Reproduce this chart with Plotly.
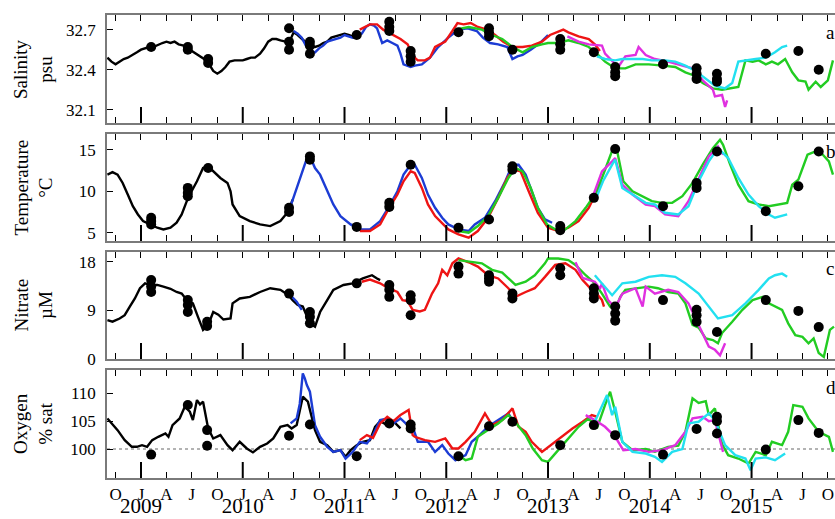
import plotly.graph_objects as go

# ---------------- DATA (time in decimal years) ----------------
# Salinity (psu)
sal_black_t = [2008.67,2008.71,2008.75,2008.79,2008.83,2008.87,2008.92,2008.96,2009.00,2009.04,2009.08,2009.12,2009.17,2009.21,2009.25,2009.29,2009.33,2009.37,2009.42,2009.46,2009.50,2009.54,2009.58,2009.62,2009.67,2009.71,2009.75,2009.79,2009.83,2009.87,2009.92,2009.96,2010.00,2010.04,2010.08,2010.12,2010.17,2010.21,2010.25,2010.29,2010.33,2010.37,2010.42,2010.46,2010.50,2010.54,2010.58,2010.62,2010.67,2010.71,2010.75,2010.79,2010.83,2010.87,2010.92,2010.96,2011.00,2011.04,2011.08,2011.12]
sal_black_v = [32.49,32.46,32.44,32.46,32.48,32.49,32.51,32.53,32.55,32.56,32.57,32.57,32.59,32.60,32.61,32.60,32.61,32.59,32.58,32.57,32.54,32.52,32.50,32.48,32.44,32.39,32.37,32.39,32.42,32.46,32.47,32.47,32.47,32.48,32.49,32.49,32.52,32.56,32.61,32.63,32.63,32.62,32.61,32.61,32.68,32.66,32.63,32.60,32.57,32.57,32.58,32.60,32.61,32.64,32.65,32.66,32.67,32.66,32.65,32.66]
sal_blue_t = [2010.50,2010.54,2010.58,2010.62,2010.67,2010.71,2010.75,2010.79,2010.83,2010.87,2010.92,2010.96,2011.00,2011.04,2011.08,2011.12,2011.17,2011.21,2011.25,2011.29,2011.32,2011.37,2011.42,2011.47,2011.52,2011.55,2011.58,2011.65,2011.69,2011.76,2011.84,2011.92,2012.02,2012.12,2012.21,2012.30,2012.36,2012.43,2012.51,2012.60,2012.65,2012.70,2012.75,2012.83,2012.92,2013.00]
sal_blue_v = [32.69,32.67,32.64,32.58,32.54,32.53,32.56,32.58,32.61,32.62,32.63,32.64,32.66,32.65,32.64,32.65,32.67,32.72,32.74,32.73,32.71,32.60,32.62,32.60,32.58,32.52,32.44,32.42,32.43,32.44,32.49,32.57,32.64,32.70,32.71,32.69,32.64,32.60,32.59,32.57,32.48,32.50,32.51,32.55,32.60,32.66]
sal_red_t = [2011.15,2011.25,2011.32,2011.38,2011.43,2011.50,2011.55,2011.62,2011.65,2011.69,2011.72,2011.79,2011.84,2011.89,2011.99,2012.06,2012.11,2012.17,2012.24,2012.31,2012.40,2012.48,2012.56,2012.65,2012.75,2012.84,2012.94,2013.02,2013.15,2013.20,2013.30,2013.40,2013.46,2013.51]
sal_red_v = [32.70,32.74,32.74,32.70,32.68,32.65,32.63,32.59,32.54,32.49,32.47,32.47,32.49,32.57,32.61,32.69,32.75,32.74,32.75,32.72,32.70,32.66,32.61,32.57,32.57,32.58,32.61,32.66,32.70,32.68,32.65,32.63,32.59,32.54]
sal_green_t = [2012.09,2012.22,2012.35,2012.45,2012.55,2012.65,2012.75,2012.84,2012.94,2013.00,2013.10,2013.20,2013.30,2013.40,2013.48,2013.56,2013.66,2013.76,2013.86,2013.99,2014.13,2014.25,2014.35,2014.42,2014.52,2014.62,2014.71,2014.81,2014.87,2014.94,2015.01,2015.07,2015.14,2015.20,2015.26,2015.33,2015.40,2015.46,2015.53,2015.56,2015.63,2015.68,2015.75,2015.80]
sal_green_v = [32.70,32.72,32.70,32.66,32.63,32.57,32.53,32.57,32.59,32.60,32.60,32.62,32.60,32.57,32.52,32.46,32.41,32.41,32.44,32.44,32.43,32.42,32.38,32.36,32.30,32.26,32.25,32.26,32.27,32.47,32.46,32.47,32.44,32.46,32.44,32.48,32.38,32.32,32.31,32.25,32.31,32.27,32.32,32.47]
sal_magenta_t = [2013.19,2013.30,2013.40,2013.53,2013.56,2013.63,2013.69,2013.76,2013.86,2013.89,2013.96,2014.05,2014.18,2014.32,2014.42,2014.52,2014.62,2014.64,2014.71,2014.74,2014.76]
sal_magenta_v = [32.65,32.61,32.59,32.58,32.52,32.47,32.42,32.50,32.51,32.57,32.51,32.48,32.46,32.43,32.41,32.32,32.25,32.20,32.21,32.12,32.17]
sal_cyan_t = [2013.48,2013.56,2013.66,2013.73,2013.83,2013.93,2014.02,2014.15,2014.25,2014.35,2014.45,2014.55,2014.64,2014.74,2014.81,2014.87,2014.94,2015.04,2015.14,2015.23,2015.30,2015.35]
sal_cyan_v = [32.50,32.48,32.47,32.48,32.48,32.48,32.47,32.47,32.46,32.43,32.39,32.33,32.28,32.26,32.30,32.46,32.47,32.48,32.49,32.53,32.57,32.58]
sal_dots_t = [2009.10,2009.46,2009.46,2009.66,2009.66,2010.455,2010.455,2010.455,2010.66,2010.66,2010.66,2011.12,2011.44,2011.44,2011.44,2011.65,2011.65,2011.65,2012.12,2012.42,2012.42,2012.42,2012.65,2013.12,2013.12,2013.12,2013.45,2013.66,2013.66,2013.66,2014.13,2014.46,2014.46,2014.46,2014.66,2014.66,2014.66,2015.14,2015.46,2015.66]
sal_dots_v = [32.57,32.57,32.55,32.48,32.45,32.71,32.61,32.55,32.61,32.58,32.52,32.66,32.76,32.72,32.69,32.54,32.50,32.46,32.68,32.71,32.68,32.65,32.55,32.63,32.59,32.55,32.53,32.42,32.38,32.35,32.44,32.41,32.37,32.33,32.37,32.33,32.31,32.52,32.54,32.40]

# Temperature (degC)
tem_black_t = [2008.67,2008.72,2008.77,2008.82,2008.87,2008.92,2008.97,2009.02,2009.09,2009.16,2009.22,2009.29,2009.35,2009.40,2009.45,2009.48,2009.55,2009.61,2009.66,2009.71,2009.78,2009.85,2009.88,2009.90,2009.97,2010.07,2010.17,2010.27,2010.37,2010.45,2010.49]
tem_black_v = [12.0,12.3,12.0,11.0,9.6,8.2,7.2,6.4,6.0,5.6,5.4,5.6,6.2,7.2,8.8,9.6,11.2,12.8,13.0,12.4,11.6,11.0,10.0,8.4,7.0,6.4,6.0,5.8,6.4,7.6,9.0]
tem_blue_t = [2010.47,2010.53,2010.58,2010.62,2010.66,2010.68,2010.71,2010.76,2010.83,2010.89,2010.96,2011.06,2011.15,2011.25,2011.35,2011.43,2011.52,2011.58,2011.65,2011.69,2011.76,2011.82,2011.89,2011.96,2012.02,2012.12,2012.22,2012.28,2012.38,2012.48,2012.58,2012.65,2012.71,2012.78,2012.84,2012.90,2012.97,2013.04]
tem_blue_v = [8.2,10.4,12.2,13.6,14.2,13.6,12.8,12.0,10.0,8.4,7.0,6.0,5.4,5.4,6.4,8.0,10.0,12.0,13.2,13.2,11.6,9.6,8.0,6.8,6.0,5.4,5.2,6.0,6.8,8.8,11.2,13.2,13.2,12.0,10.0,8.0,6.6,6.2]
tem_red_t = [2011.15,2011.25,2011.35,2011.43,2011.52,2011.58,2011.65,2011.69,2011.76,2011.82,2011.89,2011.96,2012.02,2012.12,2012.22,2012.31,2012.41,2012.51,2012.60,2012.66,2012.73,2012.81,2012.90,2013.00,2013.10,2013.20,2013.30,2013.40,2013.48,2013.53]
tem_red_v = [5.2,5.2,6.0,7.8,9.6,11.2,12.4,12.2,10.4,8.4,7.0,6.2,5.4,4.8,4.4,5.2,6.8,9.2,11.6,12.6,12.4,10.0,7.4,5.6,5.2,5.6,6.4,8.0,10.0,11.2]
tem_green_t = [2012.12,2012.22,2012.31,2012.41,2012.51,2012.61,2012.68,2012.75,2012.83,2012.90,2012.99,2013.07,2013.17,2013.27,2013.37,2013.46,2013.53,2013.59,2013.64,2013.68,2013.74,2013.83,2013.93,2014.02,2014.12,2014.22,2014.32,2014.42,2014.52,2014.62,2014.69,2014.72,2014.79,2014.87,2014.97,2015.07,2015.17,2015.26,2015.35,2015.40,2015.46,2015.55,2015.63,2015.70,2015.76,2015.80]
tem_green_v = [5.2,5.0,5.8,7.0,9.2,11.6,12.8,12.4,10.4,8.0,6.0,5.4,5.4,6.4,8.0,9.6,11.6,13.6,15.2,14.8,11.2,10.0,9.4,8.8,8.6,8.6,9.4,11.0,13.2,15.2,16.2,15.6,13.2,10.8,8.8,8.4,8.2,8.4,8.6,10.8,11.4,14.4,14.8,14.4,13.6,12.0]
tem_magenta_t = [2013.43,2013.53,2013.63,2013.66,2013.73,2013.83,2013.96,2014.05,2014.15,2014.28,2014.38,2014.48,2014.58,2014.67,2014.72]
tem_magenta_v = [9.0,12.4,13.6,14.0,10.8,9.6,8.4,8.2,7.2,7.0,8.8,11.6,14.2,15.4,14.4]
tem_cyan_t = [2013.46,2013.54,2013.63,2013.66,2013.73,2013.83,2013.96,2014.05,2014.15,2014.28,2014.38,2014.48,2014.58,2014.67,2014.77,2014.87,2014.97,2015.07,2015.17,2015.23,2015.35]
tem_cyan_v = [8.8,11.2,13.2,13.8,10.4,9.6,8.6,8.4,7.4,7.2,8.2,11.2,13.6,15.2,14.0,11.6,9.6,8.2,7.2,6.8,7.2]
tem_dots_t = [2009.10,2009.10,2009.10,2009.46,2009.46,2009.46,2009.66,2010.455,2010.455,2010.66,2010.66,2011.12,2011.44,2011.44,2011.65,2012.12,2012.42,2012.65,2012.65,2013.12,2013.12,2013.45,2013.66,2014.13,2014.46,2014.46,2014.66,2015.14,2015.46,2015.66]
tem_dots_v = [6.8,6.4,6.0,10.4,9.8,9.4,12.8,8.0,7.5,14.2,13.8,5.7,8.6,8.1,13.2,5.6,6.6,13.0,12.6,5.8,5.3,9.2,15.1,8.2,11.0,10.4,14.8,7.6,10.6,14.8]

# Nitrate (uM)
nit_black_t = [2008.67,2008.72,2008.79,2008.84,2008.89,2008.94,2008.99,2009.04,2009.09,2009.16,2009.22,2009.29,2009.35,2009.40,2009.45,2009.51,2009.56,2009.61,2009.66,2009.71,2009.76,2009.81,2009.88,2009.90,2009.97,2010.07,2010.17,2010.27,2010.37,2010.45,2010.49,2010.54,2010.59,2010.66,2010.71,2010.76,2010.83,2010.89,2010.99,2011.08,2011.18,2011.27,2011.32,2011.35]
nit_black_v = [7.2,6.9,7.5,8.1,9.7,11.2,13.1,14.0,13.7,13.7,13.4,13.0,12.4,12.1,10.9,10.3,7.8,5.4,6.3,8.7,8.2,7.3,7.5,10.3,11.2,11.5,12.4,13.1,12.8,11.8,10.9,10.0,9.7,6.6,6.0,8.7,10.9,12.8,13.7,14.0,14.9,15.5,14.9,14.6]
nit_blue_t = [2010.47,2010.53,2010.58]
nit_blue_v = [11.8,10.6,9.1]
nit_red_t = [2011.17,2011.25,2011.35,2011.43,2011.52,2011.57,2011.62,2011.67,2011.74,2011.79,2011.86,2011.92,2011.96,2012.01,2012.06,2012.12,2012.22,2012.31,2012.41,2012.51,2012.61,2012.68,2012.78,2012.87,2012.97,2013.07,2013.17,2013.27,2013.34,2013.40,2013.46,2013.53,2013.55]
nit_red_v = [14.3,14.7,14.0,13.1,12.4,10.9,10.7,9.1,8.8,9.1,12.1,14.0,16.5,15.5,17.7,18.6,17.9,17.1,15.5,14.9,13.1,11.5,12.4,13.1,15.2,17.4,17.7,16.5,14.6,13.4,12.5,10.9,9.7]
nit_green_t = [2012.12,2012.25,2012.35,2012.45,2012.55,2012.68,2012.78,2012.87,2012.97,2013.00,2013.10,2013.20,2013.27,2013.37,2013.46,2013.53,2013.61,2013.66,2013.71,2013.76,2013.86,2013.99,2014.08,2014.18,2014.28,2014.35,2014.42,2014.48,2014.55,2014.62,2014.67,2014.71,2014.81,2014.91,2015.01,2015.11,2015.17,2015.23,2015.30,2015.36,2015.43,2015.50,2015.56,2015.61,2015.66,2015.71,2015.77,2015.81]
nit_green_v = [18.3,17.9,17.7,16.5,16.0,13.7,14.3,15.5,17.7,18.6,18.6,18.3,17.4,15.5,14.0,12.1,9.7,9.1,11.5,12.8,13.1,13.4,13.1,12.4,12.1,10.3,6.3,5.8,3.8,3.5,2.9,4.8,6.9,9.1,10.9,11.5,10.3,9.7,9.1,6.6,4.4,4.1,2.9,3.8,1.1,0.4,5.4,6.0]
nit_magenta_t = [2013.27,2013.34,2013.46,2013.51,2013.53,2013.59,2013.66,2013.73,2013.86,2013.93,2013.96,2014.05,2014.18,2014.28,2014.38,2014.48,2014.58,2014.64,2014.69,2014.74]
nit_magenta_v = [17.9,15.0,14.3,13.0,14.0,10.9,9.5,12.1,13.1,9.7,13.4,12.1,12.8,12.4,10.3,6.3,2.3,1.7,0.7,2.9]
nit_cyan_t = [2013.46,2013.53,2013.63,2013.73,2013.86,2013.99,2014.12,2014.25,2014.35,2014.48,2014.58,2014.67,2014.81,2014.94,2015.07,2015.17,2015.23,2015.30,2015.35]
nit_cyan_v = [15.5,14.0,11.8,14.0,14.3,15.2,15.5,15.2,14.0,12.1,9.7,7.5,8.1,10.3,12.8,14.9,15.5,15.8,15.2]
nit_dots_t = [2009.10,2009.10,2009.10,2009.46,2009.46,2009.46,2009.65,2009.65,2010.455,2010.66,2010.66,2010.66,2011.12,2011.44,2011.44,2011.44,2011.65,2011.65,2011.65,2012.12,2012.12,2012.42,2012.42,2012.42,2012.65,2012.65,2013.12,2013.12,2013.45,2013.45,2013.45,2013.66,2013.66,2013.66,2014.13,2014.46,2014.46,2014.46,2014.66,2015.14,2015.46,2015.66]
nit_dots_v = [14.6,13.4,12.4,10.9,10.0,8.7,6.9,6.1,12.1,8.7,7.8,6.6,14.0,13.7,12.8,11.5,11.8,10.9,8.1,17.1,15.8,15.5,14.9,14.3,12.1,11.2,16.8,15.5,13.1,12.1,11.2,9.7,8.4,7.1,10.9,9.1,8.1,6.9,5.0,10.9,8.9,5.9]

# Oxygen (% sat)
oxy_black_t = [2008.67,2008.71,2008.77,2008.84,2008.91,2008.96,2009.01,2009.06,2009.11,2009.17,2009.24,2009.27,2009.31,2009.38,2009.43,2009.48,2009.51,2009.55,2009.58,2009.61,2009.66,2009.71,2009.78,2009.85,2009.90,2009.97,2010.04,2010.10,2010.17,2010.24,2010.30,2010.37,2010.44,2010.48,2010.53,2010.59,2010.64,2010.71,2010.76,2010.83,2010.89,2010.96,2011.01,2011.06,2011.12,2011.18,2011.25,2011.30,2011.35,2011.42,2011.48,2011.55]
oxy_black_v = [105.5,104.6,103.4,101.6,100.4,100.4,100.7,100.4,101.6,102.2,102.8,102.2,104.3,105.5,107.6,106.7,105.2,108.8,108.0,108.5,103.7,101.9,102.5,100.7,99.8,101.3,100.1,99.4,100.4,101.0,101.9,104.0,104.3,103.7,104.3,109.4,108.5,103.4,101.3,100.7,99.5,99.8,98.6,99.8,100.7,101.3,101.6,104.0,105.0,104.3,105.0,103.7]
oxy_blue_t = [2010.47,2010.53,2010.56,2010.59,2010.61,2010.63,2010.66,2010.71,2010.76,2010.83,2010.89,2010.96,2011.01,2011.08,2011.15,2011.22,2011.28,2011.35,2011.42,2011.48,2011.55,2011.62,2011.67,2011.72,2011.82,2011.89,2011.96,2012.02,2012.09,2012.19,2012.25,2012.31,2012.41,2012.51,2012.61,2012.68]
oxy_blue_v = [104.6,105.5,108.1,113.6,112.7,111.5,110.3,104.3,102.2,100.4,99.5,99.8,98.3,99.5,101.3,101.0,102.5,105.2,105.5,104.6,105.5,104.3,104.0,101.3,101.3,99.5,100.7,99.2,98.0,98.9,101.3,102.2,104.0,105.2,106.4,104.3]
oxy_red_t = [2011.15,2011.22,2011.28,2011.35,2011.42,2011.48,2011.55,2011.63,2011.67,2011.69,2011.79,2011.89,2011.99,2012.06,2012.12,2012.19,2012.28,2012.38,2012.45,2012.55,2012.65,2012.71,2012.78,2012.84,2012.94,2013.04,2013.14,2013.24,2013.34,2013.43,2013.48]
oxy_red_v = [101.6,102.5,102.0,104.6,105.8,105.0,106.1,107.0,102.5,102.2,101.6,101.3,101.9,100.1,100.1,101.3,103.1,106.4,104.3,105.2,107.3,104.0,103.1,101.3,99.5,100.9,102.2,103.7,104.9,106.1,105.8]
oxy_green_t = [2012.12,2012.19,2012.25,2012.31,2012.41,2012.51,2012.61,2012.68,2012.78,2012.85,2012.94,2013.00,2013.10,2013.20,2013.30,2013.40,2013.48,2013.56,2013.61,2013.66,2013.73,2013.83,2013.96,2014.05,2014.18,2014.28,2014.35,2014.42,2014.48,2014.55,2014.58,2014.64,2014.71,2014.77,2014.87,2014.97,2015.04,2015.14,2015.20,2015.30,2015.36,2015.41,2015.50,2015.56,2015.66,2015.76,2015.80]
oxy_green_v = [98.9,98.0,98.3,102.2,103.4,104.6,106.1,104.8,102.5,100.1,98.0,97.7,99.8,101.9,104.0,105.5,103.7,107.9,110.3,106.7,101.3,99.8,100.0,99.5,100.4,100.6,103.1,109.1,108.3,108.6,106.1,107.3,100.9,98.9,98.3,97.4,99.5,98.9,101.3,100.7,103.1,107.9,107.6,105.5,103.1,102.2,99.5]
oxy_magenta_t = [2013.37,2013.46,2013.56,2013.66,2013.74,2013.86,2013.99,2014.12,2014.25,2014.35,2014.42,2014.52,2014.58,2014.64,2014.72]
oxy_magenta_v = [106.1,105.2,104.0,102.2,99.8,100.0,99.5,99.8,100.7,103.1,105.5,105.8,105.0,105.2,99.5]
oxy_cyan_t = [2013.46,2013.54,2013.58,2013.63,2013.66,2013.73,2013.83,2013.96,2014.05,2014.12,2014.22,2014.32,2014.38,2014.48,2014.58,2014.64,2014.74,2014.84,2014.94,2014.99,2015.04,2015.14,2015.23,2015.33]
oxy_cyan_v = [104.9,107.9,109.7,106.1,107.6,101.3,99.5,99.2,98.6,97.7,99.5,100.0,104.6,104.9,106.4,105.2,100.7,98.9,98.3,96.2,98.3,98.5,98.0,99.2]
oxy_dots_t = [2009.10,2009.46,2009.65,2009.65,2010.455,2010.66,2011.12,2011.44,2011.65,2011.65,2012.12,2012.42,2012.65,2013.12,2013.45,2013.66,2014.13,2014.46,2014.66,2014.66,2014.66,2015.14,2015.46,2015.66]
oxy_dots_v = [99.0,107.9,103.4,100.6,102.4,104.4,98.7,104.6,104.4,103.7,98.7,104.1,104.9,100.7,104.3,102.5,99.0,103.6,105.8,105.0,102.8,99.9,105.2,102.9]

# Axis labels / ticks
panel_titles = ["Salinity<br>psu", "Temperature<br>\u00b0C", "Nitrate<br>\u00b5M", "Oxygen<br>% sat"]
panel_letters = ["a", "b", "c", "d"]
panel_ranges = [[32.0, 32.81], [4.0, 16.9], [0.0, 19.8], [94.8, 114.2]]
panel_ticks = [[32.1, 32.4, 32.7], [5, 10, 15], [0, 9, 18], [100, 105, 110]]
years = [2009, 2010, 2011, 2012, 2013, 2014, 2015]
quarter_letters = ["J", "A", "J", "O"]
x_range = [2008.666, 2015.82]

colors = {"black": "#000000", "blue": "#1c3cd4", "red": "#ee1414",
          "green": "#22cc22", "magenta": "#e030e0", "cyan": "#22e0f0"}

panels = [
    [("black", sal_black_t, sal_black_v), ("blue", sal_blue_t, sal_blue_v), ("red", sal_red_t, sal_red_v),
     ("green", sal_green_t, sal_green_v), ("magenta", sal_magenta_t, sal_magenta_v), ("cyan", sal_cyan_t, sal_cyan_v),
     ("dots", sal_dots_t, sal_dots_v)],
    [("black", tem_black_t, tem_black_v), ("blue", tem_blue_t, tem_blue_v), ("red", tem_red_t, tem_red_v),
     ("green", tem_green_t, tem_green_v), ("magenta", tem_magenta_t, tem_magenta_v), ("cyan", tem_cyan_t, tem_cyan_v),
     ("dots", tem_dots_t, tem_dots_v)],
    [("black", nit_black_t, nit_black_v), ("blue", nit_blue_t, nit_blue_v), ("red", nit_red_t, nit_red_v),
     ("green", nit_green_t, nit_green_v), ("magenta", nit_magenta_t, nit_magenta_v), ("cyan", nit_cyan_t, nit_cyan_v),
     ("dots", nit_dots_t, nit_dots_v)],
    [("black", oxy_black_t, oxy_black_v), ("blue", oxy_blue_t, oxy_blue_v), ("red", oxy_red_t, oxy_red_v),
     ("green", oxy_green_t, oxy_green_v), ("magenta", oxy_magenta_t, oxy_magenta_v), ("cyan", oxy_cyan_t, oxy_cyan_v),
     ("dots", oxy_dots_t, oxy_dots_v)],
]

# ---------------- FIGURE ----------------
W, H = 835, 519
L = 107
FONT = "Liberation Serif, Times New Roman, serif"
FRAME = "#7a7a7a"

def fy(p):
    return 1 - p / H

def fx(p):
    return (p - L) / (W - L)

panel_px = [(15, 123), (134, 241), (252, 359), (370, 478)]

fig = go.Figure()
layout = dict(width=W, height=H, margin=dict(l=L, r=0, t=0, b=0, autoexpand=False),
              paper_bgcolor="white", plot_bgcolor="white", showlegend=False,
              font=dict(family=FONT, color="black"))

qt_vals, qt_text = [], []
for y in [2008] + years:
    for k, lab in enumerate(quarter_letters):
        v = y + k * 0.25
        if x_range[0] <= v <= x_range[1]:
            qt_vals.append(v)
            qt_text.append(lab)

shapes, annotations = [], []
for i, series in enumerate(panels):
    n = i + 1
    xa = "x" if n == 1 else f"x{n}"
    ya = "y" if n == 1 else f"y{n}"
    for name, t, v in series:
        if name == "dots":
            fig.add_trace(go.Scatter(x=t, y=v, mode="markers", xaxis=xa, yaxis=ya,
                                     marker=dict(color="black", size=10)))
        else:
            fig.add_trace(go.Scatter(x=t, y=v, mode="lines", xaxis=xa, yaxis=ya,
                                     line=dict(color=colors[name], width=2.4)))
    top, bot = panel_px[i]
    layout["xaxis" if n == 1 else f"xaxis{n}"] = dict(
        domain=[0, 1], anchor=ya, range=x_range, matches=None if n == 1 else "x",
        tickmode="array", tickvals=qt_vals, ticktext=qt_text, automargin=False,
        ticks="inside", ticklen=6, tickwidth=1.2, tickcolor="black",
        showline=True, linecolor=FRAME, linewidth=1.5, mirror="ticks",
        showgrid=False, zeroline=False, showticklabels=(n == 4),
        ticklabelstandoff=0,
        tickfont=dict(family=FONT, size=17, color="black"))
    layout["yaxis" if n == 1 else f"yaxis{n}"] = dict(
        domain=[fy(bot), fy(top)], anchor=xa, range=panel_ranges[i], automargin=False,
        tickmode="array", tickvals=panel_ticks[i],
        ticks="inside", ticklen=6, tickwidth=1.2, tickcolor="black",
        showline=True, linecolor=FRAME, linewidth=1.5, mirror=False,
        showgrid=False, zeroline=False, ticklabelstandoff=6,
        tickfont=dict(family=FONT, size=17, color="black"))
    # long January ticks at the bottom of each panel
    for yr in years:
        shapes.append(dict(type="line", xref=xa, yref=f"{ya} domain", x0=yr, x1=yr,
                           y0=0, y1=16 / (bot - top), line=dict(color="black", width=2)))
    annotations.append(dict(text=panel_titles[i], xref="paper", yref="paper",
                            x=fx(33), y=fy((top + bot) / 2), xanchor="center", yanchor="middle",
                            textangle=-90, showarrow=False,
                            font=dict(family=FONT, size=19, color="black")))
    annotations.append(dict(text=panel_letters[i], xref="paper", yref="paper",
                            x=fx(824), y=fy(top + 17), xanchor="left", yanchor="middle",
                            showarrow=False, font=dict(family=FONT, size=19, color="black")))

# year labels on an overlaying axis under the bottom panel
layout["xaxis5"] = dict(overlaying="x4", anchor="y4", side="bottom", range=x_range, matches="x",
                        tickmode="array", tickvals=years, ticktext=[str(y) for y in years],
                        ticks="", showline=False, showgrid=False, zeroline=False, automargin=False,
                        ticklabelstandoff=13,
                        tickfont=dict(family=FONT, size=21, color="black"))
fig.add_trace(go.Scatter(x=[x_range[0]], y=[100], xaxis="x5", yaxis="y4", mode="markers",
                         marker=dict(size=1, color="rgba(0,0,0,0)"), hoverinfo="skip"))

shapes.append(dict(type="line", xref="x4 domain", yref="y4", x0=0, x1=1, y0=100, y1=100,
                   layer="below", line=dict(color="#9a9a9a", width=1.5, dash="dot")))

layout["shapes"] = shapes
layout["annotations"] = annotations
fig.update_layout(**layout)
fig.write_html("out.html")
